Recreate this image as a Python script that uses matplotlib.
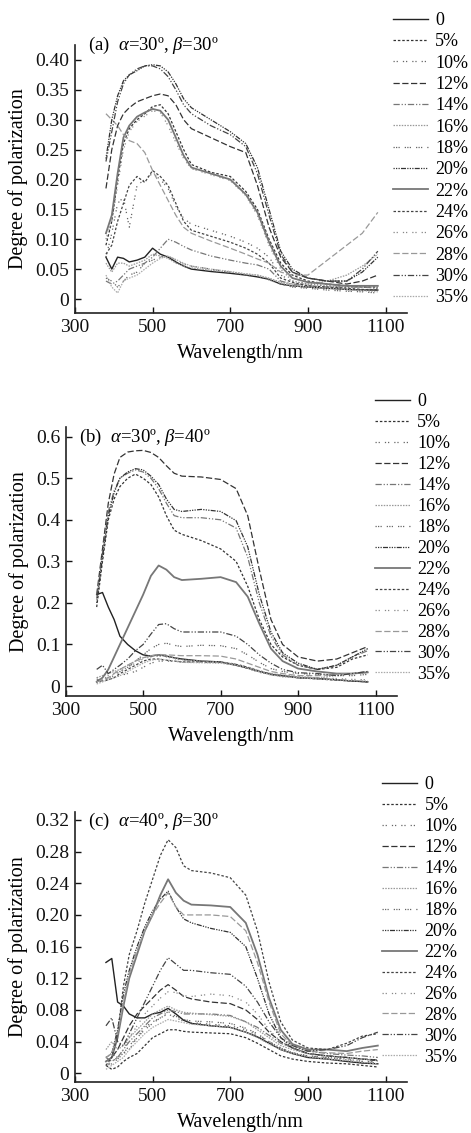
import matplotlib
matplotlib.use("Agg")
import matplotlib.pyplot as plt

plt.rcParams['font.family'] = ['Liberation Serif', 'DejaVu Serif']
plt.rcParams['mathtext.fontset'] = 'custom'
plt.rcParams['mathtext.rm'] = 'Liberation Serif'
plt.rcParams['mathtext.it'] = 'Liberation Serif:italic'

# wavelength grid (nm)
W = [380, 395, 410, 425, 440, 460, 480, 500, 520, 540, 560, 580, 600, 650, 700,
     740, 770, 800, 830, 860, 900, 950, 1000, 1040, 1080]

LABELS = ['0', '5%', '10%', '12%', '14%', '16%', '18%', '20%', '22%', '24%', '26%', '28%', '30%', '35%']

# panel (a)  alpha=30, beta=30
a_0 = [0.07, 0.05, 0.07, 0.068, 0.062, 0.065, 0.07, 0.085, 0.075, 0.07, 0.062, 0.055, 0.05, 0.046, 0.043, 0.04, 0.037, 0.033, 0.025, 0.022, 0.02, 0.018, 0.016, 0.015, 0.015]
a_5 = [0.09, 0.13, 0.20, 0.26, 0.285, 0.30, 0.31, 0.322, 0.325, 0.31, 0.28, 0.25, 0.225, 0.212, 0.205, 0.18, 0.15, 0.10, 0.06, 0.04, 0.03, 0.025, 0.022, 0.02, 0.02]
a_10 = [0.07, 0.11, 0.16, 0.17, 0.12, 0.19, 0.20, 0.21, 0.20, 0.185, 0.155, 0.135, 0.125, 0.115, 0.105, 0.095, 0.085, 0.07, 0.04, 0.03, 0.025, 0.022, 0.02, 0.02, 0.018]
a_12 = [0.185, 0.25, 0.29, 0.31, 0.32, 0.33, 0.335, 0.34, 0.343, 0.34, 0.325, 0.30, 0.285, 0.27, 0.255, 0.245, 0.19, 0.12, 0.07, 0.045, 0.035, 0.03, 0.025, 0.03, 0.04]
a_14 = [0.03, 0.025, 0.03, 0.04, 0.05, 0.055, 0.06, 0.07, 0.085, 0.1, 0.095, 0.088, 0.082, 0.072, 0.065, 0.06, 0.057, 0.05, 0.03, 0.025, 0.022, 0.02, 0.02, 0.02, 0.018]
a_16 = [0.06, 0.045, 0.06, 0.06, 0.055, 0.06, 0.065, 0.075, 0.072, 0.068, 0.06, 0.055, 0.052, 0.048, 0.045, 0.042, 0.04, 0.035, 0.028, 0.025, 0.025, 0.03, 0.04, 0.055, 0.075]
a_18 = [0.035, 0.03, 0.02, 0.03, 0.04, 0.045, 0.06, 0.065, 0.07, 0.072, 0.065, 0.058, 0.055, 0.05, 0.045, 0.04, 0.038, 0.032, 0.025, 0.02, 0.018, 0.015, 0.013, 0.012, 0.01]
a_20 = [0.235, 0.30, 0.34, 0.365, 0.375, 0.382, 0.39, 0.392, 0.39, 0.38, 0.36, 0.335, 0.32, 0.30, 0.28, 0.26, 0.22, 0.15, 0.08, 0.05, 0.035, 0.03, 0.03, 0.045, 0.07]
a_22 = [0.11, 0.14, 0.21, 0.27, 0.29, 0.305, 0.312, 0.318, 0.315, 0.30, 0.27, 0.24, 0.22, 0.21, 0.20, 0.175, 0.145, 0.095, 0.055, 0.035, 0.028, 0.025, 0.022, 0.022, 0.022]
a_24 = [0.075, 0.09, 0.13, 0.16, 0.19, 0.205, 0.195, 0.215, 0.205, 0.19, 0.16, 0.13, 0.115, 0.105, 0.095, 0.085, 0.075, 0.06, 0.035, 0.028, 0.022, 0.02, 0.018, 0.016, 0.015]
a_26 = [0.1, 0.13, 0.19, 0.25, 0.28, 0.297, 0.306, 0.315, 0.312, 0.29, 0.262, 0.235, 0.218, 0.208, 0.198, 0.173, 0.14, 0.09, 0.05, 0.03, 0.025, 0.022, 0.02, 0.02, 0.02]
a_28 = [0.31, 0.30, 0.29, 0.275, 0.265, 0.26, 0.245, 0.215, 0.19, 0.165, 0.14, 0.12, 0.11, 0.097, 0.085, 0.075, 0.067, 0.06, 0.045, 0.04, 0.04, 0.065, 0.09, 0.11, 0.145]
a_30 = [0.23, 0.28, 0.33, 0.36, 0.375, 0.385, 0.39, 0.39, 0.385, 0.372, 0.35, 0.325, 0.31, 0.29, 0.275, 0.255, 0.21, 0.14, 0.075, 0.045, 0.035, 0.03, 0.03, 0.05, 0.08]
a_35 = [0.04, 0.02, 0.01, 0.03, 0.035, 0.04, 0.05, 0.06, 0.068, 0.072, 0.066, 0.06, 0.055, 0.05, 0.046, 0.042, 0.04, 0.034, 0.027, 0.022, 0.02, 0.018, 0.016, 0.014, 0.012]

# panel (b)  alpha=30, beta=40
b_0 = [0.22, 0.225, 0.19, 0.16, 0.12, 0.10, 0.085, 0.075, 0.072, 0.075, 0.072, 0.068, 0.065, 0.06, 0.058, 0.05, 0.043, 0.035, 0.028, 0.025, 0.02, 0.018, 0.015, 0.012, 0.01]
b_5 = [0.19, 0.30, 0.40, 0.45, 0.48, 0.50, 0.51, 0.50, 0.485, 0.455, 0.41, 0.375, 0.365, 0.35, 0.33, 0.30, 0.24, 0.16, 0.10, 0.07, 0.05, 0.04, 0.045, 0.065, 0.075]
b_10 = [0.01, 0.012, 0.015, 0.02, 0.025, 0.03, 0.035, 0.045, 0.055, 0.06, 0.06, 0.06, 0.058, 0.057, 0.056, 0.05, 0.042, 0.033, 0.027, 0.023, 0.02, 0.018, 0.015, 0.012, 0.01]
b_12 = [0.22, 0.33, 0.44, 0.51, 0.55, 0.563, 0.566, 0.567, 0.562, 0.55, 0.53, 0.512, 0.505, 0.503, 0.497, 0.475, 0.41, 0.28, 0.16, 0.10, 0.07, 0.06, 0.065, 0.08, 0.095]
b_14 = [0.21, 0.32, 0.42, 0.47, 0.50, 0.512, 0.52, 0.515, 0.50, 0.475, 0.44, 0.41, 0.405, 0.405, 0.40, 0.38, 0.31, 0.20, 0.12, 0.075, 0.05, 0.04, 0.05, 0.07, 0.085]
b_16 = [0.02, 0.025, 0.03, 0.035, 0.04, 0.05, 0.06, 0.068, 0.073, 0.075, 0.072, 0.068, 0.063, 0.06, 0.058, 0.052, 0.045, 0.036, 0.03, 0.026, 0.022, 0.02, 0.025, 0.03, 0.032]
b_18 = [0.01, 0.015, 0.02, 0.025, 0.035, 0.045, 0.06, 0.075, 0.09, 0.10, 0.103, 0.098, 0.095, 0.098, 0.097, 0.09, 0.075, 0.057, 0.042, 0.035, 0.03, 0.028, 0.025, 0.025, 0.028]
b_20 = [0.20, 0.31, 0.41, 0.465, 0.50, 0.515, 0.523, 0.52, 0.505, 0.485, 0.45, 0.425, 0.42, 0.425, 0.42, 0.398, 0.335, 0.22, 0.13, 0.08, 0.055, 0.04, 0.05, 0.07, 0.09]
b_22 = [0.01, 0.02, 0.04, 0.07, 0.10, 0.14, 0.18, 0.22, 0.265, 0.29, 0.28, 0.262, 0.255, 0.258, 0.262, 0.25, 0.215, 0.15, 0.09, 0.06, 0.042, 0.035, 0.03, 0.03, 0.033]
b_24 = [0.015, 0.012, 0.015, 0.02, 0.03, 0.04, 0.05, 0.06, 0.065, 0.065, 0.062, 0.06, 0.058, 0.058, 0.057, 0.052, 0.045, 0.036, 0.028, 0.024, 0.02, 0.017, 0.014, 0.012, 0.01]
b_26 = [0.02, 0.015, 0.025, 0.03, 0.035, 0.045, 0.055, 0.065, 0.07, 0.072, 0.07, 0.066, 0.062, 0.06, 0.058, 0.053, 0.046, 0.037, 0.03, 0.026, 0.022, 0.02, 0.018, 0.016, 0.015]
b_28 = [0.01, 0.015, 0.02, 0.03, 0.04, 0.05, 0.06, 0.068, 0.073, 0.076, 0.075, 0.074, 0.073, 0.073, 0.072, 0.065, 0.055, 0.045, 0.035, 0.03, 0.025, 0.025, 0.028, 0.03, 0.035]
b_30 = [0.04, 0.05, 0.03, 0.04, 0.05, 0.065, 0.085, 0.10, 0.125, 0.148, 0.15, 0.138, 0.13, 0.13, 0.13, 0.12, 0.10, 0.075, 0.055, 0.04, 0.032, 0.03, 0.025, 0.03, 0.035]
b_35 = [0.005, 0.01, 0.015, 0.02, 0.025, 0.035, 0.045, 0.055, 0.062, 0.065, 0.063, 0.06, 0.057, 0.056, 0.055, 0.05, 0.043, 0.034, 0.027, 0.022, 0.02, 0.017, 0.015, 0.013, 0.012]

# panel (c)  alpha=40, beta=30
c_0 = [0.14, 0.145, 0.09, 0.085, 0.075, 0.07, 0.07, 0.075, 0.077, 0.082, 0.075, 0.067, 0.063, 0.06, 0.058, 0.052, 0.046, 0.038, 0.03, 0.025, 0.02, 0.018, 0.015, 0.013, 0.012]
c_5 = [0.01, 0.005, 0.008, 0.015, 0.02, 0.025, 0.035, 0.045, 0.05, 0.055, 0.055, 0.053, 0.052, 0.051, 0.05, 0.045, 0.038, 0.03, 0.022, 0.018, 0.015, 0.013, 0.012, 0.01, 0.008]
c_10 = [0.01, 0.015, 0.02, 0.025, 0.03, 0.045, 0.058, 0.065, 0.07, 0.075, 0.07, 0.066, 0.064, 0.062, 0.06, 0.055, 0.048, 0.04, 0.032, 0.026, 0.022, 0.02, 0.018, 0.015, 0.015]
c_12 = [0.015, 0.02, 0.03, 0.045, 0.06, 0.075, 0.085, 0.095, 0.105, 0.112, 0.105, 0.097, 0.094, 0.09, 0.088, 0.08, 0.068, 0.052, 0.04, 0.032, 0.025, 0.022, 0.02, 0.018, 0.017]
c_14 = [0.02, 0.015, 0.02, 0.03, 0.04, 0.05, 0.06, 0.07, 0.075, 0.08, 0.078, 0.075, 0.075, 0.075, 0.073, 0.065, 0.058, 0.048, 0.038, 0.032, 0.028, 0.025, 0.023, 0.022, 0.02]
c_16 = [0.03, 0.04, 0.03, 0.035, 0.045, 0.055, 0.065, 0.075, 0.08, 0.085, 0.08, 0.077, 0.076, 0.074, 0.072, 0.065, 0.055, 0.045, 0.035, 0.03, 0.025, 0.022, 0.02, 0.018, 0.016]
c_18 = [0.01, 0.012, 0.018, 0.025, 0.035, 0.045, 0.055, 0.063, 0.07, 0.078, 0.072, 0.068, 0.066, 0.065, 0.063, 0.057, 0.05, 0.04, 0.032, 0.026, 0.022, 0.02, 0.017, 0.015, 0.013]
c_20 = [0.02, 0.025, 0.055, 0.10, 0.13, 0.16, 0.185, 0.205, 0.22, 0.23, 0.21, 0.195, 0.19, 0.183, 0.178, 0.16, 0.12, 0.075, 0.045, 0.032, 0.025, 0.022, 0.02, 0.018, 0.016]
c_22 = [0.015, 0.02, 0.045, 0.085, 0.12, 0.15, 0.18, 0.20, 0.225, 0.245, 0.228, 0.218, 0.213, 0.212, 0.21, 0.19, 0.15, 0.095, 0.055, 0.037, 0.03, 0.03, 0.028, 0.032, 0.035]
c_24 = [0.01, 0.02, 0.05, 0.11, 0.15, 0.18, 0.215, 0.245, 0.275, 0.295, 0.285, 0.262, 0.256, 0.253, 0.247, 0.225, 0.18, 0.115, 0.065, 0.042, 0.032, 0.03, 0.038, 0.047, 0.05]
c_26 = [0.02, 0.025, 0.02, 0.03, 0.045, 0.06, 0.075, 0.085, 0.095, 0.103, 0.102, 0.098, 0.097, 0.10, 0.098, 0.09, 0.075, 0.055, 0.04, 0.032, 0.025, 0.022, 0.02, 0.018, 0.017]
c_28 = [0.02, 0.025, 0.05, 0.09, 0.125, 0.155, 0.18, 0.20, 0.215, 0.228, 0.21, 0.20, 0.20, 0.20, 0.198, 0.18, 0.14, 0.09, 0.05, 0.035, 0.028, 0.026, 0.025, 0.028, 0.03]
c_30 = [0.06, 0.07, 0.04, 0.035, 0.05, 0.07, 0.09, 0.11, 0.13, 0.146, 0.138, 0.13, 0.13, 0.127, 0.125, 0.11, 0.09, 0.065, 0.045, 0.035, 0.028, 0.03, 0.035, 0.045, 0.052]
c_35 = [0.005, 0.01, 0.015, 0.02, 0.03, 0.04, 0.05, 0.058, 0.063, 0.068, 0.066, 0.064, 0.062, 0.06, 0.058, 0.052, 0.045, 0.037, 0.03, 0.025, 0.021, 0.018, 0.016, 0.014, 0.012]

panel_a = [a_0, a_5, a_10, a_12, a_14, a_16, a_18, a_20, a_22, a_24, a_26, a_28, a_30, a_35]
panel_b = [b_0, b_5, b_10, b_12, b_14, b_16, b_18, b_20, b_22, b_24, b_26, b_28, b_30, b_35]
panel_c = [c_0, c_5, c_10, c_12, c_14, c_16, c_18, c_20, c_22, c_24, c_26, c_28, c_30, c_35]

titles = [r'(a)  $\alpha$=30º, $\beta$=30º', r'(b)  $\alpha$=30º, $\beta$=40º', r'(c)  $\alpha$=40º, $\beta$=30º']
yticks_a = [0, 0.05, 0.10, 0.15, 0.20, 0.25, 0.30, 0.35, 0.40]
yticks_b = [0, 0.1, 0.2, 0.3, 0.4, 0.5, 0.6]
yticks_c = [0, 0.04, 0.08, 0.12, 0.16, 0.20, 0.24, 0.28, 0.32]
ylabels_a = ['0', '0.05', '0.10', '0.15', '0.20', '0.25', '0.30', '0.35', '0.40']
ylabels_b = ['0', '0.1', '0.2', '0.3', '0.4', '0.5', '0.6']
ylabels_c = ['0', '0.04', '0.08', '0.12', '0.16', '0.20', '0.24', '0.28', '0.32']
xticks = [300, 500, 700, 900, 1100]

# line styles for the 14 series (grayscale print)
styles = [
    dict(color='#222222', ls='-', lw=1.0),
    dict(color='#333333', ls=(0, (2, 1.5)), lw=0.9),
    dict(color='#666666', ls=(0, (1, 1.5, 1, 4)), lw=0.9),
    dict(color='#333333', ls=(0, (5, 2)), lw=0.9),
    dict(color='#777777', ls=(0, (5, 1.5, 1, 1.5, 1, 1.5)), lw=0.9),
    dict(color='#999999', ls=(0, (1.2, 1)), lw=0.9),
    dict(color='#666666', ls=(0, (1, 1, 1, 1, 1, 4)), lw=0.9),
    dict(color='#333333', ls=(0, (1, 1, 1, 1, 1, 1, 4, 1)), lw=0.9),
    dict(color='#777777', ls='-', lw=1.3),
    dict(color='#444444', ls=(0, (2, 1.5)), lw=0.9),
    dict(color='#888888', ls=(0, (1, 1.5, 1, 4)), lw=0.9),
    dict(color='#999999', ls=(0, (5, 2)), lw=0.9),
    dict(color='#444444', ls=(0, (5, 1.5, 1, 1.5, 1, 1.5)), lw=0.9),
    dict(color='#aaaaaa', ls=(0, (1.2, 1)), lw=0.9),
]

fig = plt.figure(figsize=(4.71, 11.33), dpi=100)

# [left, bottom, width, height] in figure fraction
axes_pos = [[0.159, 0.7237, 0.705, 0.2366], [0.1395, 0.3857, 0.703, 0.2377], [0.159, 0.0447, 0.705, 0.239]]
ylims = [(-0.0235, 0.425), (-0.024, 0.624), (-0.0114, 0.3305)]
title_y = [1.0, 0.96, 0.965]
legend_anchor = [(0.834, 0.9895), (0.796, 0.653), (0.811, 0.315)]
legend_spacing = [0.24, 0.22, 0.22]

panels = [panel_a, panel_b, panel_c]
yticks_all = [yticks_a, yticks_b, yticks_c]
ylabels_all = [ylabels_a, ylabels_b, ylabels_c]

for i in range(3):
    ax = fig.add_axes(axes_pos[i])
    handles = []
    for series, st, lab in zip(panels[i], styles, LABELS):
        h, = ax.plot(W, series, label=lab, **st)
        handles.append(h)
    ax.set_xlim(300, 1155)
    ax.set_ylim(*ylims[i])
    ax.set_xticks(xticks)
    ax.set_xticklabels([str(x) for x in xticks], fontsize=14)
    ax.set_yticks(yticks_all[i])
    ax.set_yticklabels(ylabels_all[i], fontsize=14)
    ax.tick_params(direction='in', length=4, width=1, pad=4, colors='#111111')
    for s in ['top', 'right']:
        ax.spines[s].set_visible(False)
    for s in ['left', 'bottom']:
        ax.spines[s].set_linewidth(1.2)
        ax.spines[s].set_color('#222222')
    ax.set_xlabel('Wavelength/nm', fontsize=14.5, labelpad=6)
    ax.set_ylabel('Degree of polarization', fontsize=14.5, labelpad=5)
    ax.text(0.04, title_y[i], titles[i], transform=ax.transAxes, fontsize=13.5, va='center', ha='left')
    fig.legend(handles=handles, loc='upper left', bbox_to_anchor=legend_anchor[i],
               frameon=False, fontsize=13, handlelength=1.95, handletextpad=0.4,
               labelspacing=legend_spacing[i], borderpad=0, borderaxespad=0)

fig.savefig('out.png', dpi=100)
